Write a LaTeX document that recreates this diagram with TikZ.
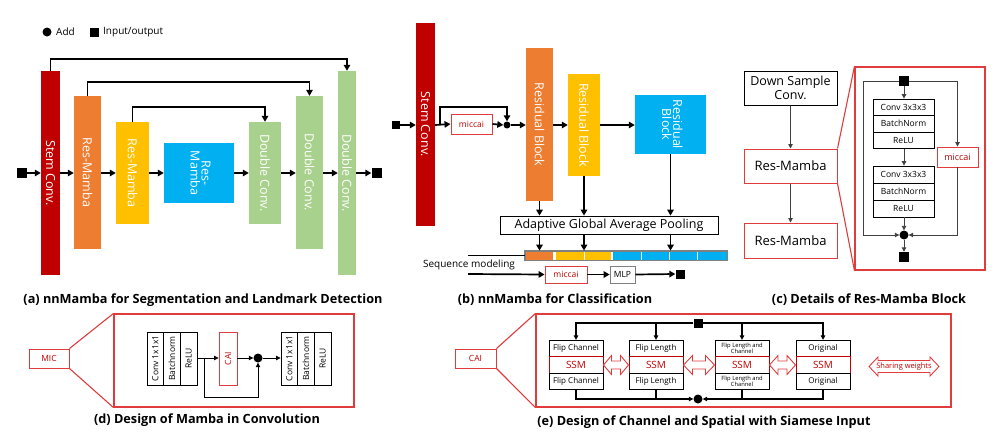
\documentclass[tikz,border=0pt]{standalone}
\usepackage{fontspec}
\setmainfont{Open Sans}
\usetikzlibrary{arrows.meta,calc}
\definecolor{cdred}{HTML}{C00000}
\definecolor{corange}{HTML}{ED7D31}
\definecolor{cyellow}{HTML}{FFC000}
\definecolor{cblue}{HTML}{00B0F0}
\definecolor{cgreen}{HTML}{A9D18E}
\definecolor{cline}{HTML}{E03C3C}
\definecolor{cgray}{HTML}{404040}
\tikzset{
  bar/.style={draw=none,inner sep=0pt,text=white,font=\fontsize{12.5}{14}\selectfont,align=center},
  iosq/.style={fill=black,draw=none,minimum size=#1,inner sep=0pt},
  addc/.style={circle,fill=black,minimum size=#1,inner sep=0pt},
  thick arr/.style={line width=1.7pt,-{Triangle[length=6pt,width=6.5pt]}},
  thick ln/.style={line width=1.7pt},
  thin arr/.style={line width=0.9pt,draw=cgray,-{Triangle[length=4.5pt,width=4.5pt]}},
  mid arr/.style={line width=1.1pt,-{Triangle[length=4.5pt,width=4.5pt]}},
  redbox/.style={draw=cline,line width=0.9pt,text=cdred,inner sep=0pt,font=\fontsize{8.5}{10}\selectfont},
  cell/.style={draw=black,line width=0.8pt,inner sep=0pt,font=\fontsize{8.5}{10}\selectfont,align=center},
  ecell/.style={draw=black,line width=0.8pt,inner sep=0pt,font=\fontsize{8}{9}\selectfont,align=center,minimum width=54pt,minimum height=16.5pt},
  ttl/.style={font=\bfseries\fontsize{12.7}{14}\selectfont},
  zoomln/.style={draw=cline,line width=1.1pt},
  dbl/.style={draw=cline,line width=0.9pt,fill=white},
}
\begin{document}
\begin{tikzpicture}[x=1pt,y=-1pt]
\useasboundingbox (0,0) rectangle (996,447);
% ===== Legend =====
\node[addc=9pt] (lgadd) at (47,32) {};
\node[anchor=west,font=\fontsize{10}{12}\selectfont,inner sep=0pt] (lgaddt) at (56,32) {Add};
\node[iosq=9pt] (lgio) at (94,32) {};
\node[anchor=west,font=\fontsize{10}{12}\selectfont,inner sep=0pt] (lgiot) at (103,32) {Input/output};
% ===== Panel (a) =====
\node[iosq=10pt] (inA) at (22,173) {};
\node[bar,fill=cdred,minimum width=19pt,minimum height=204pt] (stemA) at (50.5,173) {\rotatebox{-90}{Stem Conv.}};
\node[bar,fill=corange,minimum width=27pt,minimum height=153pt] (rm1A) at (87.5,172.5) {\rotatebox{-90}{Res-Mamba}};
\node[bar,fill=cyellow,minimum width=33pt,minimum height=102pt] (rm2A) at (132.5,173) {\rotatebox{-90}{Res-Mamba}};
\node[bar,fill=cblue,minimum width=70pt,minimum height=60pt] (rm3A) at (199,173) {\rotatebox{-90}{\begin{tabular}{@{}c@{}}Res-\\[-3pt]Mamba\end{tabular}}};
\node[bar,fill=cgreen,minimum width=32pt,minimum height=102pt] (dc1A) at (265,173) {\rotatebox{-90}{Double Conv.}};
\node[bar,fill=cgreen,minimum width=27pt,minimum height=153pt] (dc2A) at (309.5,172.5) {\rotatebox{-90}{Double Conv.}};
\node[bar,fill=cgreen,minimum width=18pt,minimum height=204pt] (dc3A) at (347,173) {\rotatebox{-90}{Double Conv.}};
\node[iosq=10pt] (outA) at (376.5,173) {};
\draw[thick arr] (inA.east) -- (stemA.west |- 0,173);
\draw[thick arr] (stemA.east |- 0,173) -- (rm1A.west |- 0,173);
\draw[thick arr] (rm1A.east |- 0,173) -- (rm2A.west |- 0,173);
\draw[thick arr] (rm2A.east |- 0,173) -- (rm3A.west |- 0,173);
\draw[thick arr] (rm3A.east |- 0,173) -- (dc1A.west |- 0,173);
\draw[thick arr] (dc1A.east |- 0,173) -- (dc2A.west |- 0,173);
\draw[thick arr] (dc2A.east |- 0,173) -- (dc3A.west |- 0,173);
\draw[thick arr] (dc3A.east |- 0,173) -- (outA.west);
\draw[thick arr] (stemA.north) -- (50.5,59) -| (dc3A.north);
\draw[thick arr] (rm1A.north) -- (87.5,82) -| (dc2A.north);
\draw[thick arr] (rm2A.north) -- (132.5,107) -| (dc1A.north);
\node[ttl] (ttlA) at (203,300) {(a) nnMamba for Segmentation and Landmark Detection};
% ===== Panel (b) =====
\node[iosq=8pt] (inB) at (396,125) {};
\node[bar,fill=cdred,minimum width=19pt,minimum height=203pt] (stemB) at (425.5,124.5) {\rotatebox{-90}{Stem Conv.}};
\node[redbox,minimum width=41pt,minimum height=20pt] (micB1) at (471.5,124) {miccai};
\node[addc=7pt] (addB) at (507,125) {};
\node[bar,fill=corange,minimum width=27pt,minimum height=153pt] (resB1) at (539.5,124.5) {\rotatebox{-90}{Residual Block}};
\node[bar,fill=cyellow,minimum width=32pt,minimum height=102pt] (resB2) at (584,125) {\rotatebox{-90}{Residual Block}};
\node[bar,fill=cblue,minimum width=71pt,minimum height=59pt] (resB3) at (670.5,124.5) {\rotatebox{-90}{\begin{tabular}{@{}c@{}}Residual\\[-3pt]Block\end{tabular}}};
\node[draw=black,line width=0.8pt,minimum width=218pt,minimum height=18pt,inner sep=0pt,font=\fontsize{12.5}{14}\selectfont] (poolB) at (609,225) {Adaptive Global Average Pooling};
\draw[thick arr] (inB.east) -- (stemB.west |- 0,125);
\draw[thick arr] (stemB.east |- 0,125) -- (micB1.west);
\coordinate (brB) at (440,125);
\draw[thick arr] (brB) -- (440,107) -| (addB.north);
\draw[thick arr] (micB1.east) -- (addB.west);
\draw[thick arr] (addB.east) -- (resB1.west |- 0,125);
\draw[thick arr] (resB1.east |- 0,125) -- (resB2.west |- 0,125);
\draw[thick arr] (resB2.east |- 0,125) -- (resB3.west |- 0,125);
\draw[thick arr] (resB1.south) -- (resB1.south |- poolB.north);
\draw[thick arr] (resB2.south) -- (resB2.south |- poolB.north);
\draw[thick arr] (resB3.south) -- (resB3.south |- poolB.north);
% sequence bar
\node[draw=gray,line width=0.8pt,minimum width=202pt,minimum height=9pt,inner sep=0pt] (seqB) at (626,255.5) {};
\fill[corange] (525.5,251.5) rectangle (553,259.5);
\fill[cyellow] (556,251.5) rectangle (611,259.5);
\fill[cblue] (613,251.5) rectangle (726.5,259.5);
\draw[white,line width=0.8pt] (584,251.5) -- (584,259.5) (641.5,251.5) -- (641.5,259.5) (669.5,251.5) -- (669.5,259.5) (697.5,251.5) -- (697.5,259.5);
\draw[gray,line width=0.8pt] (seqB.north west) rectangle (seqB.south east);
\draw[thick arr] (poolB.south -| resB1) -- (seqB.north -| resB1);
\draw[thick arr] (poolB.south -| resB2) -- (seqB.north -| resB2);
\draw[thick arr] (poolB.south -| resB3) -- (seqB.north -| resB3);
\coordinate (sqo) at (468,255.5);
\coordinate (sqi) at (468,274);
\node[redbox,minimum width=42pt,minimum height=17pt] (micB2) at (566,274.5) {miccai};
\node[draw=gray,line width=0.8pt,minimum width=25pt,minimum height=17pt,inner sep=0pt,font=\fontsize{8.5}{10}\selectfont] (mlpB) at (622.5,274.5) {MLP};
\node[iosq=9pt] (outB) at (680,274) {};
\draw[thick ln] (seqB.west) -- (sqo);
\draw[thick arr] (sqi) -- (micB2.west);
\draw[thick arr] (micB2.east) -- (mlpB.west);
\draw[thick arr] (mlpB.east) -- (outB.west);
\node[font=\fontsize{10}{12}\selectfont,inner sep=0pt] (seqT) at (469,265) {Sequence modeling};
\node[ttl] (ttlB) at (555,300) {(b) nnMamba for Classification};
% ===== Panel (c) =====
\node[draw=black,line width=1pt,minimum width=93pt,minimum height=34pt,inner sep=0pt,align=center,font=\fontsize{12.5}{14}\selectfont] (dsC) at (790.5,88) {Down Sample\\Conv.};
\node[draw=cline,line width=1pt,minimum width=93pt,minimum height=34pt,inner sep=0pt,font=\fontsize{13}{15}\selectfont] (rmC1) at (790.5,166) {Res-Mamba};
\node[draw=cline,line width=1pt,minimum width=93pt,minimum height=35pt,inner sep=0pt,font=\fontsize{13}{15}\selectfont] (rmC2) at (790.5,240.5) {Res-Mamba};
\draw[thin arr] (dsC.south) -- (rmC1.north);
\draw[thin arr] (rmC1.south) -- (rmC2.north);
\node[draw=cline,line width=1.1pt,minimum width=130pt,minimum height=203pt,inner sep=0pt] (bigC) at (920,168.5) {};
\draw[zoomln] (rmC1.north east) -- (bigC.north west);
\draw[zoomln] (rmC1.south east) -- (bigC.south west);
\node[iosq=10pt] (inC) at (904,81) {};
\node[cell,minimum width=61pt,minimum height=16.5pt] (c1a) at (903.5,107.25) {Conv 3x3x3};
\node[cell,minimum width=61pt,minimum height=16.5pt] (c1b) at (903.5,123.75) {BatchNorm};
\node[cell,minimum width=61pt,minimum height=16.5pt] (c1c) at (903.5,140.25) {ReLU};
\node[cell,minimum width=61pt,minimum height=17pt] (c2a) at (903.5,174.5) {Conv 3x3x3};
\node[cell,minimum width=61pt,minimum height=17pt] (c2b) at (903.5,191.5) {BatchNorm};
\node[cell,minimum width=61pt,minimum height=17pt] (c2c) at (903.5,208.5) {ReLU};
\node[addc=9pt] (addC) at (904,235) {};
\node[iosq=10pt] (outC) at (904,257) {};
\node[redbox,minimum width=41pt,minimum height=20pt,font=\fontsize{9}{10}\selectfont] (micC) at (957.5,157) {miccai};
\draw[thin arr] (inC.south) -- (inC.south |- c1a.north);
\draw[thin arr] (c1c.south -| inC) -- (c2a.north -| inC);
\draw[thin arr] (c2c.south -| inC) -- (addC.north);
\draw[thin arr] (addC.south) -- (outC.north);
\draw[thin arr] (inC.west) -- (863,81) |- (addC.west);
\draw[thin arr] (inC.east) -| (micC.north);
\draw[thin arr] (micC.south) |- (addC.east);
\node[ttl] (ttlC) at (869,300) {(c) Details of Res-Mamba Block};
% ===== Panel (d) =====
\node[redbox,minimum width=40pt,minimum height=19pt,font=\fontsize{8.5}{10}\selectfont] (micD) at (49,358.5) {MIC};
\node[draw=cline,line width=1.1pt,minimum width=240pt,minimum height=93pt,inner sep=0pt] (bigD) at (234,360.5) {};
\draw[zoomln] (micD.north east) -- (bigD.north west);
\draw[zoomln] (micD.south east) -- (bigD.south west);
\node[cell,minimum width=16.7pt,minimum height=53pt] (d1a) at (155.3,358.5) {\rotatebox{90}{Conv 1x1x1}};
\node[cell,minimum width=16.7pt,minimum height=53pt] (d1b) at (172,358.5) {\rotatebox{90}{Batchnorm}};
\node[cell,minimum width=16.7pt,minimum height=53pt] (d1c) at (188.7,358.5) {\rotatebox{90}{ReLU}};
\node[redbox,minimum width=18pt,minimum height=53pt,font=\fontsize{8.5}{10}\selectfont] (caiD) at (228,358.5) {\rotatebox{90}{CAI}};
\node[addc=9pt] (addD) at (258,358) {};
\node[cell,minimum width=16.7pt,minimum height=53pt] (d2a) at (289.3,358.5) {\rotatebox{90}{Conv 1x1x1}};
\node[cell,minimum width=16.7pt,minimum height=53pt] (d2b) at (306,358.5) {\rotatebox{90}{Batchnorm}};
\node[cell,minimum width=16.7pt,minimum height=53pt] (d2c) at (322.7,358.5) {\rotatebox{90}{ReLU}};
\draw[mid arr,line width=0.8pt] (d1c.east |- 0,358) -- (caiD.west |- 0,358);
\draw[mid arr,line width=0.8pt] (caiD.east |- 0,358) -- (addD.west);
\draw[mid arr,line width=0.8pt] (addD.east) -- (d2a.west |- 0,358);
\coordinate (brD) at (204,358);
\draw[mid arr,line width=0.8pt] (brD) -- (204,397) -| (addD.south);
\node[ttl] (ttlD) at (207,420) {(d) Design of Mamba in Convolution};
% ===== Panel (e) =====
\node[redbox,minimum width=41pt,minimum height=19pt,font=\fontsize{8.5}{10}\selectfont] (caiE) at (475.5,358.5) {CAI};
\node[draw=cline,line width=1.1pt,minimum width=415pt,minimum height=93pt,inner sep=0pt] (bigE) at (743.5,360.5) {};
\draw[zoomln] (caiE.north east) -- (bigE.north west);
\draw[zoomln] (caiE.south east) -- (bigE.south west);
\foreach \nm/\xx/\lbl in {e1/576/{Flip Channel},e2/656/{Flip Length},e4/823/{Original}}{
  \node[ecell] (\nm t) at (\xx,348.5) {\lbl};
  \node[ecell,draw=cdred,text=cdred,font=\fontsize{10}{11}\selectfont] (\nm m) at (\xx,365) {SSM};
  \node[ecell] (\nm b) at (\xx,381.5) {\lbl};
}
\node[ecell,font=\fontsize{5.8}{6.3}\selectfont] (e3t) at (742,348.5) {Flip Length and\\Channel};
\node[ecell,draw=cdred,text=cdred,font=\fontsize{10}{11}\selectfont] (e3m) at (742,365) {SSM};
\node[ecell,font=\fontsize{5.8}{6.3}\selectfont] (e3b) at (742,381.5) {Flip Length and\\Channel};
\node[iosq=9pt] (inE) at (698,323) {};
\node[addc=9pt] (addE) at (698,399) {};
\draw[mid arr] (inE.west) -| (e1t.north);
\draw[mid arr] (inE.west) -| (e2t.north);
\draw[mid arr] (inE.east) -| (e3t.north);
\draw[mid arr] (inE.east) -| (e4t.north);
\draw[mid arr] (e1b.south) |- (addE.west);
\draw[mid arr] (e4b.south) |- (addE.east);
\draw[line width=1.1pt] (e2b.south) -- (e2b.south |- addE);
\draw[line width=1.1pt] (e3b.south) -- (e3b.south |- addE);
% hollow double arrows
\draw[dbl] (603.5,365) -- (611.5,355.5) -- (611.5,361) -- (620.5,361) -- (620.5,355.5) -- (628.5,365) -- (620.5,374.5) -- (620.5,369) -- (611.5,369) -- (611.5,374.5) -- cycle;
\draw[dbl] (683.5,365) -- (692.5,355.5) -- (692.5,361) -- (705.5,361) -- (705.5,355.5) -- (714.5,365) -- (705.5,374.5) -- (705.5,369) -- (692.5,369) -- (692.5,374.5) -- cycle;
\draw[dbl] (769.5,365) -- (778,355.5) -- (778,361) -- (787,361) -- (787,355.5) -- (795.5,365) -- (787,374.5) -- (787,369) -- (778,369) -- (778,374.5) -- cycle;
\draw[dbl] (869,366.5) -- (878,357) -- (878,360.5) -- (930,360.5) -- (930,357) -- (939,366.5) -- (930,376) -- (930,372.5) -- (878,372.5) -- (878,376) -- cycle;
\node[text=cdred,font=\fontsize{7.5}{8}\selectfont,inner sep=0pt] (shareE) at (904,366.5) {Sharing weights};
\node[ttl] (ttlE) at (704,422) {(e) Design of Channel and Spatial with Siamese Input};
\end{tikzpicture}
\end{document}
